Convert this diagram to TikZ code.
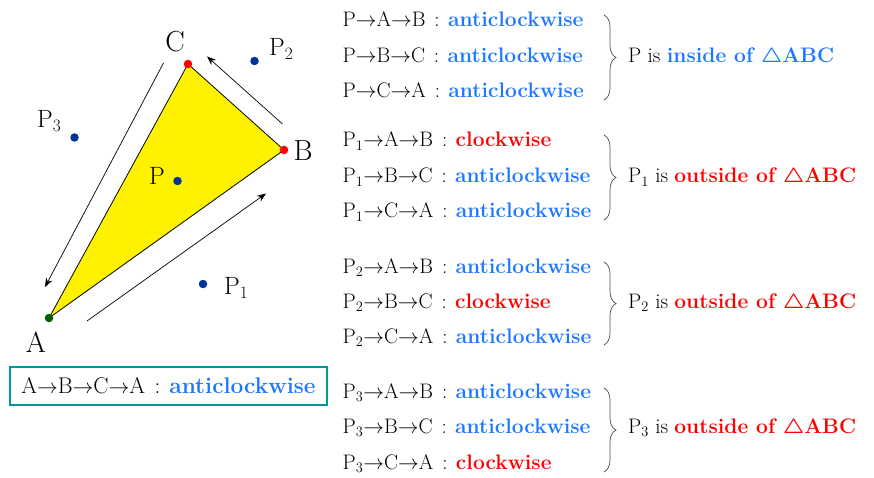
\documentclass[tikz,border=0pt]{standalone}
\usepackage{fontspec}
\usetikzlibrary{decorations.pathreplacing,arrows.meta}
\definecolor{myblue}{RGB}{30,120,255}
\definecolor{myred}{RGB}{255,0,0}
\definecolor{dotblue}{RGB}{0,51,153}
\definecolor{dotgreen}{RGB}{0,96,0}
\definecolor{myteal}{RGB}{0,153,153}
\newcommand{\myto}{$\rightarrow$}
\newcommand{\acw}{\textcolor{myblue}{\textbf{anticlockwise}}}
\newcommand{\ccw}{\textcolor{myred}{\textbf{clockwise}}}
\newcommand{\colsep}{\hspace{0.42em}:\hspace{0.4em}}
\newcommand{\Pn}[1]{$\mathrm{P}_{#1}$}
\begin{document}
\begin{tikzpicture}[x=1pt,y=-1pt,
  row/.style={anchor=base west, inner sep=0pt, font=\fontsize{21}{25}\selectfont},
  vlabel/.style={inner sep=0pt, font=\fontsize{29}{33}\selectfont},
  plabel/.style={inner sep=0pt, font=\fontsize{25}{29}\selectfont},
  dot/.style={circle, inner sep=0pt, minimum size=8.5pt, fill=#1},
  side/.style={-{Stealth[length=9pt,width=7pt]}, line width=0.7pt},
  bracestyle/.style={decorate, decoration={brace, amplitude=12pt}, line width=0.7pt, draw=black!70}]
\useasboundingbox (0,0) rectangle (874,478);

% triangle
\coordinate (a) at (49,318);
\coordinate (b) at (284,150);
\coordinate (c) at (188,64);
\draw[fill=yellow, line width=0.8pt] (a) -- (b) -- (c) -- cycle;
\node[dot=dotgreen] (A) at (a) {};
\node[dot=myred] (B) at (b) {};
\node[dot=myred] (C) at (c) {};
\node[dot=dotblue] (P) at (177.5,181) {};
\node[dot=dotblue] (P1) at (203,284) {};
\node[dot=dotblue] (P2) at (254.5,61) {};
\node[dot=dotblue] (P3) at (74.5,137.5) {};

\node[vlabel] (lA) at (36,342) {A};
\node[vlabel] (lB) at (303,151) {B};
\node[vlabel] (lC) at (175,42) {C};
\node[plabel] (lP) at (157,176) {P};
\node[plabel, anchor=west] (lP1) at (224,288) {\Pn{1}};
\node[plabel, anchor=west] (lP2) at (269,49) {\Pn{2}};
\node[plabel, anchor=west] (lP3) at (37,121) {\Pn{3}};

% direction arrows
\coordinate (ab1) at (87,321);
\coordinate (ab2) at (266,193.5);
\coordinate (bc1) at (282.5,124);
\coordinate (bc2) at (207,56.5);
\coordinate (ca1) at (163.5,63);
\coordinate (ca2) at (45,287);
\draw[side] (ab1) -- (ab2);
\draw[side] (bc1) -- (bc2);
\draw[side] (ca1) -- (ca2);

% box
\node[draw=myteal, line width=1.5pt, minimum width=317pt, minimum height=38pt, inner sep=0pt,
      font=\fontsize{22.7}{26}\selectfont] (box) at (168.5,386)
  {A\myto B\myto C\myto A\colsep\acw};

% group 1
\node[row] (r11) at (342.5,27) {P\myto A\myto B\colsep\acw};
\node[row] (r12) at (342.5,63) {P\myto B\myto C\colsep\acw};
\node[row] (r13) at (342.5,98) {P\myto C\myto A\colsep\acw};
\coordinate (b1t) at (604,15);
\coordinate (b1b) at (604,100);
\draw[bracestyle] (b1t) -- (b1b);
\node[row] (c1) at (628,63) {P is \textcolor{myblue}{\textbf{inside of {\boldmath$\triangle$}ABC}}};

% group 2
\node[row] (r21) at (342.5,147) {\Pn{1}\myto A\myto B\colsep\ccw};
\node[row] (r22) at (342.5,183) {\Pn{1}\myto B\myto C\colsep\acw};
\node[row] (r23) at (342.5,218) {\Pn{1}\myto C\myto A\colsep\acw};
\coordinate (b2t) at (604,135);
\coordinate (b2b) at (604,220);
\draw[bracestyle] (b2t) -- (b2b);
\node[row] (c2) at (628,183) {\Pn{1} is \textcolor{myred}{\textbf{outside of {\boldmath$\triangle$}ABC}}};

% group 3
\node[row] (r31) at (342.5,273) {\Pn{2}\myto A\myto B\colsep\acw};
\node[row] (r32) at (342.5,308) {\Pn{2}\myto B\myto C\colsep\ccw};
\node[row] (r33) at (342.5,343) {\Pn{2}\myto C\myto A\colsep\acw};
\coordinate (b3t) at (604,262);
\coordinate (b3b) at (604,345);
\draw[bracestyle] (b3t) -- (b3b);
\node[row] (c3) at (628,308) {\Pn{2} is \textcolor{myred}{\textbf{outside of {\boldmath$\triangle$}ABC}}};

% group 4
\node[row] (r41) at (342.5,398) {\Pn{3}\myto A\myto B\colsep\acw};
\node[row] (r42) at (342.5,433) {\Pn{3}\myto B\myto C\colsep\acw};
\node[row] (r43) at (342.5,469) {\Pn{3}\myto C\myto A\colsep\ccw};
\coordinate (b4t) at (604,388);
\coordinate (b4b) at (604,472);
\draw[bracestyle] (b4t) -- (b4b);
\node[row] (c4) at (628,433) {\Pn{3} is \textcolor{myred}{\textbf{outside of {\boldmath$\triangle$}ABC}}};
\end{tikzpicture}
\end{document}
